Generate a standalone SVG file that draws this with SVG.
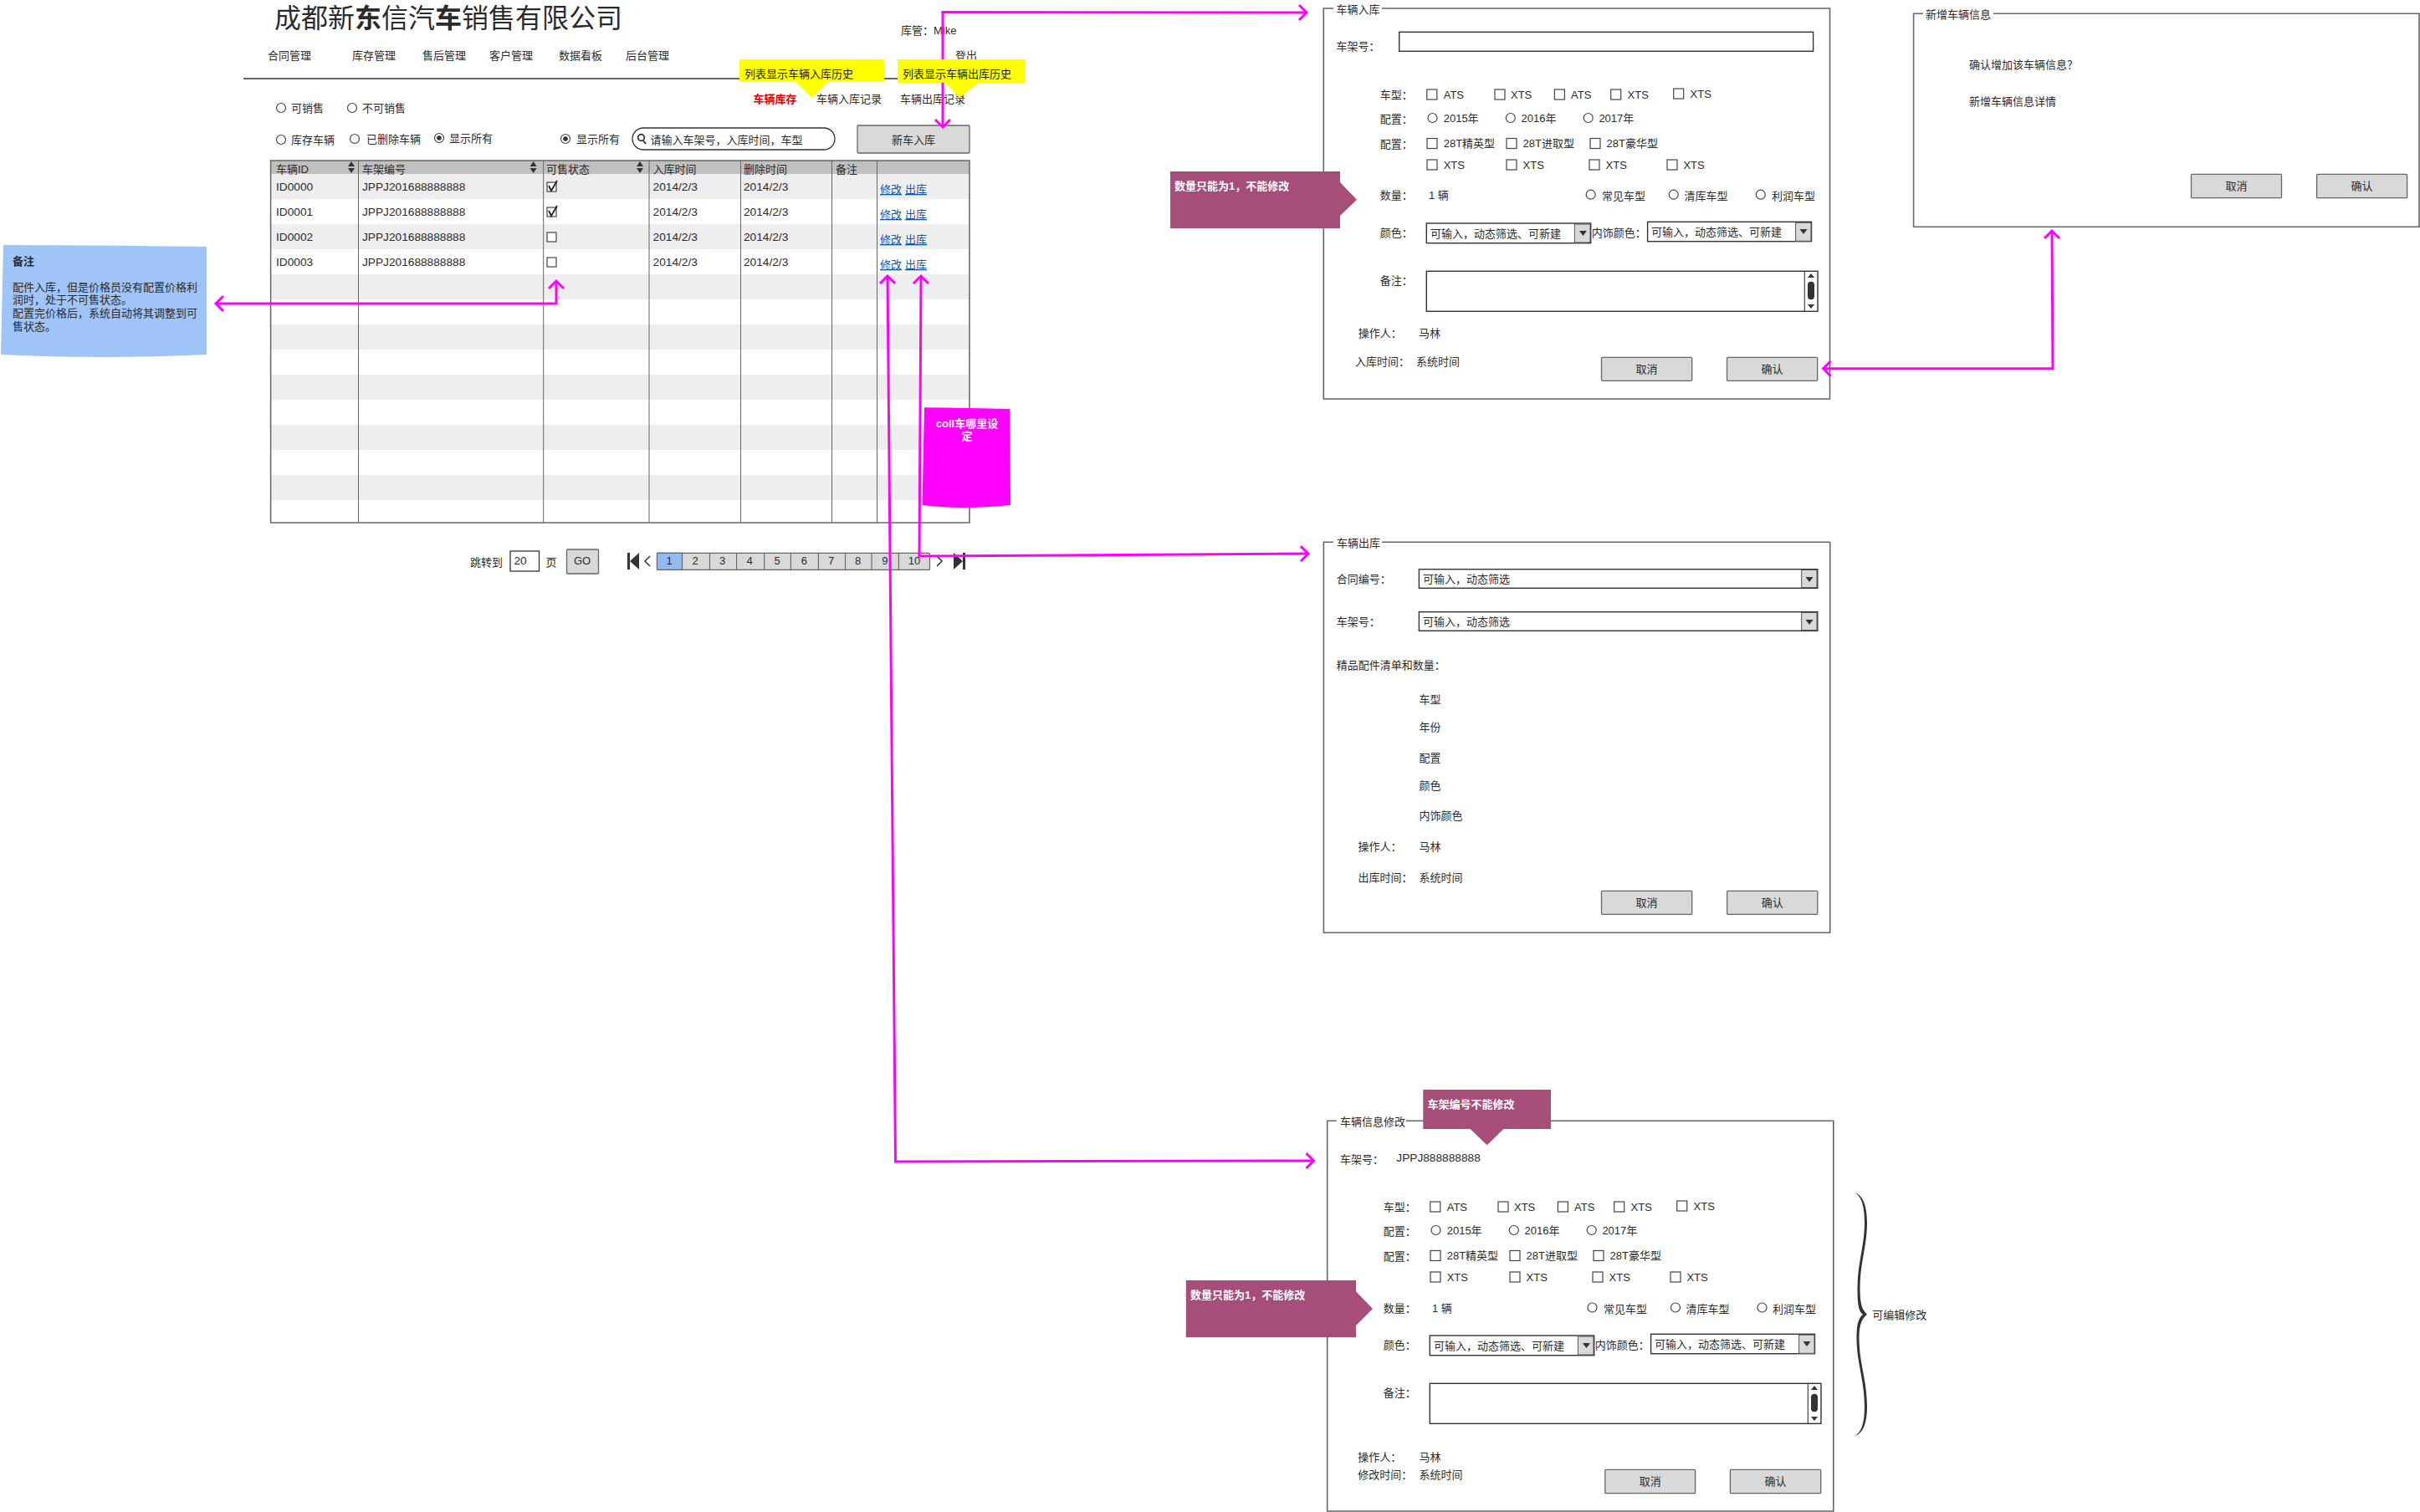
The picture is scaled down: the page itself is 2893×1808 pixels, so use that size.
<svg xmlns="http://www.w3.org/2000/svg" width="2893" height="1808" viewBox="0 0 2893 1808">
<style>
text{font-family:"Liberation Sans","Noto Sans CJK SC",sans-serif;font-size:13px;fill:#2b2b2b}
.c{text-anchor:middle}
.w{fill:#fff;font-weight:700}
.l{font-size:13.7px}
.a{fill:#0b5aa8;text-decoration:underline}
.p{fill:#fff;stroke:#666;stroke-width:1.6}
.ck{fill:#fff;stroke:#444;stroke-width:1.2}
.rd{fill:#fff;stroke:#444;stroke-width:1.2}
.btn{fill:#d9d9d9;stroke:#666;stroke-width:1.3}
.ipt{fill:#fff;stroke:#333;stroke-width:1.4}
.dd{fill:#d9d9d9;stroke:#555;stroke-width:1}
.g{fill:#eee}
.ln{stroke:#666;stroke-width:1.5;fill:none}
.dk{fill:#333}
.y{fill:#ffff00}
.m{fill:#a64d79}
.cn{fill:none;stroke:#ff00ff;stroke-width:3;marker-start:url(#o);marker-end:url(#o)}
</style>
<defs>
<marker id="o" markerUnits="userSpaceOnUse" markerWidth="24" markerHeight="24" viewBox="-12 -12 24 24" refX="9" refY="0" orient="auto-start-reverse" overflow="visible"><path d="M0,-9L9,0L0,9" fill="none" stroke="#ff00ff" stroke-width="3"/></marker>
</defs>
<rect width="2893" height="1808" fill="#fff"/>

<g id="header">
<text x="328" y="33" style="font-size:32px"><tspan>成都新</tspan><tspan font-weight="700">东</tspan><tspan>信汽</tspan><tspan font-weight="700">车</tspan><tspan>销售有限公司</tspan></text>
<text x="320" y="71">合同管理</text><text x="421" y="71">库存管理</text><text x="505" y="71">售后管理</text><text x="585" y="71">客户管理</text><text x="668" y="71">数据看板</text><text x="748" y="71">后台管理</text>
<text x="1077" y="41">库管：Mike</text><text x="1142" y="71">登出</text>
<path class="ln" d="M291,94H1160" style="stroke:#333"/>
<text x="900.6" y="123" style="fill:#e00000;font-weight:700">车辆库存</text><text x="976" y="123">车辆入库记录</text><text x="1076" y="123">车辆出库记录</text>
</g>

<g id="filters">
<circle class="rd" cx="336" cy="129" r="5.5"/><text x="348" y="134">可销售</text>
<circle class="rd" cx="421" cy="129" r="5.5"/><text x="433" y="134">不可销售</text>
<circle class="rd" cx="336" cy="167" r="5.5"/><text x="348" y="172">库存车辆</text>
<circle class="rd" cx="424" cy="166" r="5.5"/><text x="438" y="171">已删除车辆</text>
<circle class="rd" cx="525" cy="165" r="5.5"/><circle class="dk" cx="525" cy="165" r="2.8"/><text x="537" y="170">显示所有</text>
<circle class="rd" cx="676" cy="166" r="5.5"/><circle class="dk" cx="676" cy="166" r="2.8"/><text x="689" y="171">显示所有</text>
<rect x="756" y="153" width="242" height="26" rx="13" fill="#fff" stroke="#333" stroke-width="1.3"/>
<circle cx="766.5" cy="164.5" r="3.8" fill="none" stroke="#333" stroke-width="1.8"/><path d="M769,168L772,172" stroke="#333" stroke-width="2"/>
<text x="777.6" y="172">请输入车架号，入库时间，车型</text>
<rect class="btn" x="1025" y="150" width="134" height="33" rx="1"/><text class="c" x="1092" y="172">新车入库</text>
</g>

<g id="stock-table">
<rect x="323.6" y="192" width="835.4" height="16" fill="#c0c0c0"/>
<rect class="g" x="323.6" y="208" width="835.4" height="30"/><rect class="g" x="323.6" y="268" width="835.4" height="30"/><rect class="g" x="323.6" y="328" width="835.4" height="30"/><rect class="g" x="323.6" y="388" width="835.4" height="30"/><rect class="g" x="323.6" y="448" width="835.4" height="30"/><rect class="g" x="323.6" y="508" width="835.4" height="30"/><rect class="g" x="323.6" y="568" width="835.4" height="30"/>
<rect x="323.6" y="192" width="835.4" height="433" fill="none" stroke="#666" stroke-width="1.5"/>
<path class="ln" d="M428.5,192V625M649.7,192V625M776,192V625M885.5,192V625M994.5,192V625M1048.5,192V625" style="stroke-width:1"/>
<text x="330" y="207">车辆ID</text><text x="433" y="207">车架编号</text><text x="653" y="207">可售状态</text><text x="780.6" y="207">入库时间</text><text x="889" y="207">删除时间</text><text x="999" y="207">备注</text>
<path class="dk" d="M420,193l4,6h-8zM420,207l4,-6h-8zM637.6,193l4,6h-8zM637.6,207l4,-6h-8zM765,193l4,6h-8zM765,207l4,-6h-8z"/>
<text x="330" y="228" class="l">ID0000</text><text x="433" y="228" class="l">JPPJ201688888888</text><rect class="ck" x="654" y="218" width="11" height="11"/><path d="M656,222l3,6l7,-12" fill="none" stroke="#222" stroke-width="1.8"/><text x="780.6" y="228" class="l">2014/2/3</text><text x="889" y="228" class="l">2014/2/3</text><text x="1052" y="231" class="a">修改</text><text x="1082" y="231" class="a">出库</text>
<text x="330" y="258" class="l">ID0001</text><text x="433" y="258" class="l">JPPJ201688888888</text><rect class="ck" x="654" y="248" width="11" height="11"/><path d="M656,252l3,6l7,-12" fill="none" stroke="#222" stroke-width="1.8"/><text x="780.6" y="258" class="l">2014/2/3</text><text x="889" y="258" class="l">2014/2/3</text><text x="1052" y="261" class="a">修改</text><text x="1082" y="261" class="a">出库</text>
<text x="330" y="288" class="l">ID0002</text><text x="433" y="288" class="l">JPPJ201688888888</text><rect class="ck" x="654" y="278" width="11" height="11"/><text x="780.6" y="288" class="l">2014/2/3</text><text x="889" y="288" class="l">2014/2/3</text><text x="1052" y="291" class="a">修改</text><text x="1082" y="291" class="a">出库</text>
<text x="330" y="318" class="l">ID0003</text><text x="433" y="318" class="l">JPPJ201688888888</text><rect class="ck" x="654" y="308" width="11" height="11"/><text x="780.6" y="318" class="l">2014/2/3</text><text x="889" y="318" class="l">2014/2/3</text><text x="1052" y="321" class="a">修改</text><text x="1082" y="321" class="a">出库</text>
</g>

<g id="pagination">
<text x="562" y="677">跳转到</text><rect x="610" y="659" width="34.5" height="24" fill="#fff" stroke="#333" stroke-width="1.3"/><text x="614.5" y="675" class="l">20</text><text x="652.5" y="677">页</text>
<rect class="btn" x="677.5" y="657" width="38" height="29" rx="1"/><text class="c" x="696" y="675">GO</text>
<path class="dk" d="M750,661h3v20h-3zM764,661v20l-11,-10z"/><path d="M777,665l-6,6l6,6" fill="none" stroke="#333" stroke-width="1.5"/>
<rect x="785.5" y="661.3" width="326" height="20" fill="#d9d9d9" stroke="#666" stroke-width="1.2" rx="1"/><rect x="785.5" y="661.3" width="30" height="20" fill="#94bbf1" stroke="#666" stroke-width="1.2"/>
<path class="ln" style="stroke-width:1.1" d="M848.5,661.3v20M880.6,661.3v20M913.7,661.3v20M945.4,661.3v20M978.4,661.3v20M1010.5,661.3v20M1042,661.3v20M1074.4,661.3v20"/>
<text class="c" x="800" y="675">1</text><text class="c" x="831" y="675">2</text><text class="c" x="863.7" y="675">3</text><text class="c" x="896" y="675">4</text><text class="c" x="929" y="675">5</text><text class="c" x="961.4" y="675">6</text><text class="c" x="993.6" y="675">7</text><text class="c" x="1025.7" y="675">8</text><text class="c" x="1057.9" y="675">9</text><text class="c" x="1093" y="675">10</text>
<path d="M1120,665l6,6l-6,6" fill="none" stroke="#333" stroke-width="1.5"/><path class="dk" d="M1151,661h3v20h-3zM1140,661v20l11,-10z"/>
</g>

<g id="note-blue">
<path d="M4,293Q100,293 247,295L247,424Q120,430 1,424Z" fill="#9fc4f8"/>
<text x="15" y="317" font-weight="700">备注</text>
<text x="15" y="348">配件入库，但是价格员没有配置价格利</text><text x="15" y="363">润时，处于不可售状态。</text><text x="15" y="379">配置完价格后，系统自动将其调整到可</text><text x="15" y="395">售状态。</text>
</g>

<g id="panel-inbound">
<path class="p" d="M1594,10H1582.3V477H2187.5V10H1652"/>
<text x="1597.6" y="16">车辆入库</text>
<text x="1597.6" y="60">车架号：</text><rect class="ipt" x="1672.7" y="38.3" width="494.9" height="23"/>
<text x="1649.7" y="118">车型：</text>
<rect class="ck" x="1705.8" y="107" width="12" height="12"/><text x="1725.7" y="118">ATS</text>
<rect class="ck" x="1787" y="107" width="12" height="12"/><text x="1806" y="118">XTS</text>
<rect class="ck" x="1858.4" y="107" width="12" height="12"/><text x="1878" y="118">ATS</text>
<rect class="ck" x="1925.7" y="107" width="12" height="12"/><text x="1945.6" y="118">XTS</text>
<rect class="ck" x="2000.7" y="106" width="12" height="12"/><text x="2020.6" y="117">XTS</text>
<text x="1649.7" y="147">配置：</text>
<circle class="rd" cx="1712.5" cy="141" r="5.5"/><text x="1725.7" y="146">2015年</text>
<circle class="rd" cx="1805.8" cy="141" r="5.5"/><text x="1818.6" y="146">2016年</text>
<circle class="rd" cx="1898.7" cy="141" r="5.5"/><text x="1911.4" y="146">2017年</text>
<text x="1649.7" y="177">配置：</text>
<rect class="ck" x="1706" y="165.5" width="12" height="12"/><text x="1725.7" y="176">28T精英型</text>
<rect class="ck" x="1801" y="165.5" width="12" height="12"/><text x="1820.6" y="176">28T进取型</text>
<rect class="ck" x="1901" y="165.5" width="12" height="12"/><text x="1920.6" y="176">28T豪华型</text>
<rect class="ck" x="1706" y="191" width="12" height="12"/><text x="1725.7" y="202">XTS</text>
<rect class="ck" x="1801" y="191" width="12" height="12"/><text x="1820.6" y="202">XTS</text>
<rect class="ck" x="1900" y="191" width="12" height="12"/><text x="1919.6" y="202">XTS</text>
<rect class="ck" x="1993" y="191" width="12" height="12"/><text x="2012.4" y="202">XTS</text>
<text x="1649.7" y="238">数量：</text><text x="1708" y="238">1 辆</text>
<circle class="rd" cx="1901.7" cy="232.7" r="5.5"/><text x="1915" y="239">常见车型</text>
<circle class="rd" cx="2000.7" cy="232.7" r="5.5"/><text x="2013.5" y="239">清库车型</text>
<circle class="rd" cx="2104.8" cy="232.7" r="5.5"/><text x="2118" y="239">利润车型</text>
<text x="1649.7" y="283">颜色：</text>
<rect class="ipt" x="1705.3" y="267" width="196.4" height="23.7"/><rect class="dd" x="1882.4" y="268" width="18.6" height="22"/><path class="dk" d="M1888,276h9l-4.5,6z"/><text x="1710" y="284">可输入，动态筛选、可新建</text>
<text x="1902.8" y="283">内饰颜色：</text>
<rect class="ipt" x="1969.6" y="265.3" width="195.9" height="23.4"/><rect class="dd" x="2146.6" y="266.3" width="18.4" height="22"/><path class="dk" d="M2151.5,274h9l-4.5,6z"/><text x="1974" y="282">可输入，动态筛选、可新建</text>
<text x="1649.7" y="340">备注：</text>
<rect class="ipt" x="1705.3" y="324.3" width="467.7" height="48"/><path class="ln" d="M2157.3,324.3v48" style="stroke:#333;stroke-width:1.1"/><path class="dk" d="M2165,327l4,5h-8zM2165,369l4,-5h-8z"/><rect class="dk" x="2161" y="336.7" width="8" height="21.6" rx="4"/>
<text x="1623.7" y="403">操作人：</text><text x="1696" y="403">马林</text>
<text x="1620" y="437">入库时间：</text><text x="1693" y="437">系统时间</text>
<rect class="btn" x="1914.5" y="427.3" width="108.2" height="28" rx="1"/><text class="c" x="1968.6" y="446">取消</text>
<rect class="btn" x="2064.5" y="427.3" width="108.2" height="28" rx="1"/><text class="c" x="2118.6" y="446">确认</text>
</g>

<g id="panel-confirm">
<path class="p" d="M2299,16.3H2287.6V271.3H2892V16.3H2383"/>
<text x="2302" y="22">新增车辆信息</text>
<text x="2354" y="82">确认增加该车辆信息？</text><text x="2354" y="126">新增车辆信息详情</text>
<rect class="btn" x="2619.5" y="208.3" width="108" height="28.4" rx="1"/><text class="c" x="2673.5" y="227">取消</text>
<rect class="btn" x="2769.6" y="208.3" width="108" height="28.4" rx="1"/><text class="c" x="2823.6" y="227">确认</text>
</g>

<g id="panel-outbound">
<path class="p" d="M1594,648.3H1582.4V1115.3H2187.7V648.3H1652"/>
<text x="1598" y="654">车辆出库</text>
<text x="1597.7" y="697">合同编号：</text>
<rect class="ipt" x="1696.4" y="680.7" width="476.4" height="22.6"/><rect class="dd" x="2153.7" y="681.5" width="18.3" height="21"/><path class="dk" d="M2158.5,690h9l-4.5,6z"/><text x="1701" y="697">可输入，动态筛选</text>
<text x="1597.7" y="748">车架号：</text>
<rect class="ipt" x="1696.4" y="731.7" width="476.4" height="22.6"/><rect class="dd" x="2153.7" y="732.5" width="18.3" height="21"/><path class="dk" d="M2158.5,741h9l-4.5,6z"/><text x="1701" y="748">可输入，动态筛选</text>
<text x="1597.7" y="800">精品配件清单和数量：</text>
<text x="1696.4" y="841">车型</text><text x="1696.4" y="874">年份</text><text x="1696.4" y="911">配置</text><text x="1696.4" y="944">颜色</text><text x="1696.4" y="980">内饰颜色</text>
<text x="1623.4" y="1017">操作人：</text><text x="1696.4" y="1017">马林</text>
<text x="1623.4" y="1054">出库时间：</text><text x="1696.4" y="1054">系统时间</text>
<rect class="btn" x="1914.5" y="1065.3" width="108.2" height="28" rx="1"/><text class="c" x="1968.6" y="1084">取消</text>
<rect class="btn" x="2064.6" y="1065.3" width="108.2" height="28" rx="1"/><text class="c" x="2118.7" y="1084">确认</text>
</g>

<g id="panel-edit">
<path class="p" d="M1597.7,1340.3H1586.7V1807H2191.8V1340.3H1681"/>
<text x="1601.9" y="1346">车辆信息修改</text>
<text x="1602" y="1391">车架号：</text><text x="1669.3" y="1389" class="l">JPPJ888888888</text>
<text x="1653.7" y="1448">车型：</text>
<rect class="ck" x="1709.8" y="1437" width="12" height="12"/><text x="1729.7" y="1448">ATS</text>
<rect class="ck" x="1791" y="1437" width="12" height="12"/><text x="1810" y="1448">XTS</text>
<rect class="ck" x="1862.4" y="1437" width="12" height="12"/><text x="1882" y="1448">ATS</text>
<rect class="ck" x="1929.7" y="1437" width="12" height="12"/><text x="1949.6" y="1448">XTS</text>
<rect class="ck" x="2004.7" y="1436" width="12" height="12"/><text x="2024.6" y="1447">XTS</text>
<text x="1653.7" y="1477">配置：</text>
<circle class="rd" cx="1716.5" cy="1471" r="5.5"/><text x="1729.7" y="1476">2015年</text>
<circle class="rd" cx="1809.8" cy="1471" r="5.5"/><text x="1822.6" y="1476">2016年</text>
<circle class="rd" cx="1902.7" cy="1471" r="5.5"/><text x="1915.4" y="1476">2017年</text>
<text x="1653.7" y="1507">配置：</text>
<rect class="ck" x="1710" y="1495.5" width="12" height="12"/><text x="1729.7" y="1506">28T精英型</text>
<rect class="ck" x="1805" y="1495.5" width="12" height="12"/><text x="1824.6" y="1506">28T进取型</text>
<rect class="ck" x="1905" y="1495.5" width="12" height="12"/><text x="1924.6" y="1506">28T豪华型</text>
<rect class="ck" x="1710" y="1521" width="12" height="12"/><text x="1729.7" y="1532">XTS</text>
<rect class="ck" x="1805" y="1521" width="12" height="12"/><text x="1824.6" y="1532">XTS</text>
<rect class="ck" x="1904" y="1521" width="12" height="12"/><text x="1923.6" y="1532">XTS</text>
<rect class="ck" x="1997" y="1521" width="12" height="12"/><text x="2016.4" y="1532">XTS</text>
<text x="1653.7" y="1569">数量：</text><text x="1712" y="1569">1 辆</text>
<circle class="rd" cx="1903.5" cy="1563.5" r="5.5"/><text x="1917" y="1570">常见车型</text>
<circle class="rd" cx="2003" cy="1563.5" r="5.5"/><text x="2015.5" y="1570">清库车型</text>
<circle class="rd" cx="2106.5" cy="1563.5" r="5.5"/><text x="2119" y="1570">利润车型</text>
<text x="1653.7" y="1613">颜色：</text>
<rect class="ipt" x="1709.3" y="1597" width="196.4" height="23.7"/><rect class="dd" x="1886.4" y="1598" width="18.6" height="22"/><path class="dk" d="M1892,1606h9l-4.5,6z"/><text x="1714" y="1614">可输入，动态筛选、可新建</text>
<text x="1906.8" y="1613">内饰颜色：</text>
<rect class="ipt" x="1973.6" y="1595.3" width="195.9" height="23.4"/><rect class="dd" x="2150.6" y="1596.3" width="18.4" height="22"/><path class="dk" d="M2155.5,1604h9l-4.5,6z"/><text x="1978" y="1612">可输入，动态筛选、可新建</text>
<text x="1653.7" y="1670">备注：</text>
<rect class="ipt" x="1709.3" y="1654.3" width="467.7" height="48"/><path class="ln" d="M2161.3,1654.3v48" style="stroke:#333;stroke-width:1.1"/><path class="dk" d="M2169,1657l4,5h-8zM2169,1699l4,-5h-8z"/><rect class="dk" x="2165" y="1666.7" width="8" height="21.6" rx="4"/>
<text x="1623.3" y="1747">操作人：</text><text x="1696.5" y="1747">马林</text>
<text x="1623.3" y="1768">修改时间：</text><text x="1696.5" y="1768">系统时间</text>
<rect class="btn" x="1918.8" y="1757.3" width="107.8" height="28.4" rx="1"/><text class="c" x="1972.7" y="1776">取消</text>
<rect class="btn" x="2068.4" y="1757.3" width="108.3" height="28.4" rx="1"/><text class="c" x="2122.5" y="1776">确认</text>
</g>

<g id="connectors">
<path class="cn" d="M1127,152V14.5L1562,15"/>
<path class="cn" d="M258,363H665V336"/>
<path class="cn" d="M1061,330L1070.5,1389L1570.5,1388"/>
<path class="cn" d="M1101,330L1099,665L1564,662"/>
<path class="cn" d="M2179.6,440.7H2454L2453,276"/>
</g>

<g id="note-magenta">
<path d="M1105,487.3Q1160,488 1207.4,489L1208,604Q1150,610 1102.5,604Z" fill="#ff00ff"/>
<text class="c w" x="1156" y="511">coll车哪里设</text><text class="c w" x="1156" y="526">定</text>
</g>
<g id="callout-in-history">
<path class="y" d="M884,71H1057V98H990L971,117L951.5,98H884Z"/>
<text x="890" y="93" style="fill:#222">列表显示车辆入库历史</text>
</g>
<g id="callout-out-history">
<path class="y" d="M1073,71H1226V99H1170L1147,117L1130,99H1073Z"/>
<text x="1079" y="93" style="fill:#222">列表显示车辆出库历史</text>
</g>
<g id="callout-qty-inbound">
<path class="m" d="M1399,205H1602V218L1622,238.7L1602,258V273H1399Z"/>
<text class="w" x="1404" y="227">数量只能为1，不能修改</text>
</g>
<g id="callout-vin">
<path class="m" d="M1701.3,1303H1854V1350H1797.5L1777.6,1369.3L1757.7,1350H1701.3Z"/>
<text class="w" x="1706.5" y="1325">车架编号不能修改</text>
</g>
<g id="callout-qty-edit">
<path class="m" d="M1417.8,1531H1621V1544.3L1641,1565L1621,1585V1599H1417.8Z"/>
<text class="w" x="1423" y="1553">数量只能为1，不能修改</text>
</g>
<g id="brace-editable">
<path class="dk" d="M2217.3,1426C2227,1429 2232,1442 2232,1462C2232,1490 2223.5,1510 2223.5,1540C2223.5,1556 2225,1566 2232,1571.7C2225,1577 2222.5,1586 2222.5,1600C2222.5,1630 2232,1650 2232,1682C2232,1702 2227,1714 2217.3,1717.3C2225,1713 2229,1702 2229,1682C2229,1650 2219.5,1630 2219.5,1600C2219.5,1586 2221,1576 2227,1571.7C2221,1568 2220.5,1556 2220.5,1540C2220.5,1510 2229,1490 2229,1462C2229,1442 2225,1430 2217.3,1426Z"/>
<text x="2238.3" y="1577">可编辑修改</text>
</g>
</svg>
